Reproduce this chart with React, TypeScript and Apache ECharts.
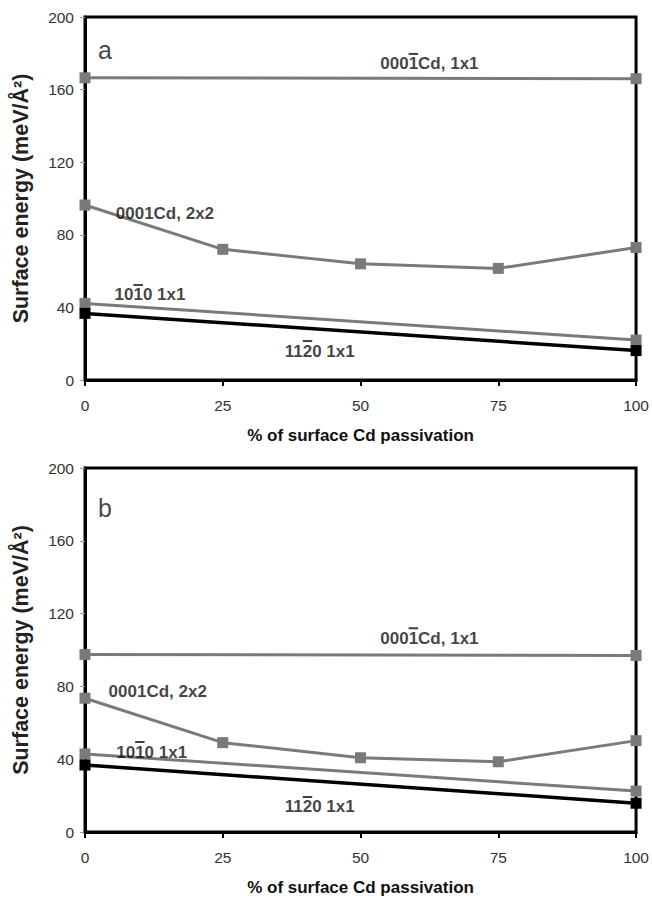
import React, { useEffect, useRef } from "react";
import * as echarts from "echarts";

// ---------- data ----------
const xTicks = [0, 25, 50, 75, 100];
const passivation5 = [0, 25, 50, 75, 100];
const passivationEnds = [0, 100];

// panel a
const a_0001bar_1x1 = [166.5, 166];
const a_0001_2x2 = [96.4, 72, 64, 61.5, 73];
const a_1010_1x1 = [42.2, 22];
const a_1120_1x1 = [36.7, 16.2];

// panel b
const b_0001bar_1x1 = [97.5, 97];
const b_0001_2x2 = [73.5, 49.1, 40.8, 38.6, 50.2];
const b_1010_1x1 = [42.9, 22.5];
const b_1120_1x1 = [36.8, 15.8];

// label texts: [before, overbarred char, after]
const L_0001bar: [string, string, string] = ["000", "1", "Cd, 1x1"];
const L_0001: [string, string, string] = ["0001Cd, 2x2", "", ""];
const L_1010: [string, string, string] = ["10", "1", "0 1x1"];
const L_1120: [string, string, string] = ["11", "2", "0 1x1"];

// annotation anchors in data coords [x, y]
const a_labels: [[string, string, string], number, number][] = [
  [L_0001bar, 62.5, 174.7],
  [L_0001, 14.5, 92],
  [L_1010, 11.8, 47.4],
  [L_1120, 42.6, 16.5],
];
const b_labels: [[string, string, string], number, number][] = [
  [L_0001bar, 62.5, 107],
  [L_0001, 13.2, 77],
  [L_1010, 12.1, 44.5],
  [L_1120, 42.6, 14.3],
];
const panelLetters: [string, number, number][] = [
  ["a", 3.6, 181.8],
  ["b", 3.6, 178],
];

const FONT = "'Liberation Sans', Arial, Helvetica, sans-serif";
const GRAY = "#7a7a7a";
const LABEL_SIZE = 17;

function zip(xs: number[], ys: number[]) {
  return xs.map((x, i) => [x, ys[i]]);
}

let measureCtx: CanvasRenderingContext2D | null = null;
function textWidth(s: string) {
  if (!measureCtx) measureCtx = document.createElement("canvas").getContext("2d");
  if (!measureCtx) return s.length * 9;
  measureCtx.font = "bold " + LABEL_SIZE + "px " + FONT;
  return measureCtx.measureText(s).width;
}

export default function App() {
  const ref = useRef<HTMLDivElement>(null);
  useEffect(() => {
    if (!ref.current) return;
    const chart = echarts.init(ref.current, undefined, { renderer: "svg" });

    const grids = [
      { left: 85, width: 552, top: 17, height: 363 },
      { left: 85, width: 552, top: 468, height: 364 },
    ].map((g) => ({ ...g, show: true, borderColor: "#000", borderWidth: 3, backgroundColor: "transparent" }));

    const xAxis = [0, 1].map((i) => ({
      type: "value",
      gridIndex: i,
      min: 0,
      max: 100,
      interval: 25,
      name: "% of surface Cd passivation",
      nameLocation: "middle",
      nameGap: 47,
      nameTextStyle: { fontFamily: FONT, fontWeight: "bold", fontSize: 17, color: "#111" },
      axisLine: { show: true, lineStyle: { color: "#000", width: 3 } },
      axisTick: { show: true, inside: false, length: 6, lineStyle: { color: "#000", width: 2 } },
      axisLabel: { fontFamily: FONT, fontSize: 15.5, color: "#333", margin: 17 },
      splitLine: { show: false },
    }));

    const yAxis = [0, 1].map((i) => ({
      type: "value",
      gridIndex: i,
      min: 0,
      max: 200,
      interval: 40,
      name: "Surface energy (meV/Å²)",
      nameLocation: "middle",
      nameGap: 53,
      nameTextStyle: { fontFamily: FONT, fontWeight: "bold", fontSize: 21.5, color: "#222" },
      axisLine: { show: true, lineStyle: { color: "#000", width: 3 } },
      axisTick: { show: true, inside: false, length: 5, lineStyle: { color: "#999", width: 1 } },
      axisLabel: { fontFamily: FONT, fontSize: 15.5, color: "#333", margin: 11 },
      splitLine: { show: false },
    }));

    const lineSeries = (idx: number, xs: number[], ys: number[], color: string, z: number, w: number) => ({
      type: "line",
      xAxisIndex: idx,
      yAxisIndex: idx,
      data: zip(xs, ys),
      symbol: "rect",
      symbolSize: 11,
      showSymbol: true,
      clip: false,
      z,
      lineStyle: { color, width: w },
      itemStyle: { color, borderWidth: 0 },
      silent: true,
    });

    const textStyleBase = { fontFamily: FONT, fontWeight: "bold", fontSize: LABEL_SIZE };

    const labelItem = ([pre, bar, post]: [string, string, string], x: number, y: number) => {
      if (!bar) {
        return { name: pre, value: [x, y], label: { formatter: "{n|" + pre + "}" } };
      }
      const full = pre + bar + post;
      const wFull = textWidth(full);
      const wPre = textWidth(pre);
      const wBar = textWidth(bar);
      const wPost = Math.max(0.5, wFull - wPre - wBar);
      const top = "{h| }{o| }{p| }";
      const bottom = "{n|" + full + "}";
      return {
        name: full,
        value: [x, y],
        label: {
          formatter: top + "\n" + bottom,
          rich: {
            n: { ...textStyleBase, color: "#111", lineHeight: 18 },
            h: { ...textStyleBase, width: wPre, height: 2, lineHeight: 2, color: "transparent" },
            o: { ...textStyleBase, width: wBar, height: 2, lineHeight: 2, color: "transparent", backgroundColor: "#111" },
            p: { ...textStyleBase, width: wPost, height: 2, lineHeight: 2, color: "transparent" },
          },
        },
      };
    };

    const labelSeries = (idx: number, items: [[string, string, string], number, number][]) => ({
      type: "scatter",
      xAxisIndex: idx,
      yAxisIndex: idx,
      symbolSize: 0,
      silent: true,
      z: 10,
      data: items.map(([parts, x, y]) => labelItem(parts, x, y)),
      label: {
        show: true,
        position: "inside",
        ...textStyleBase,
        color: "#111",
        rich: {
          n: { ...textStyleBase, color: "#111", lineHeight: 18 },
        },
      },
    });

    const letterSeries = (idx: number, item: [string, number, number]) => ({
      type: "scatter",
      xAxisIndex: idx,
      yAxisIndex: idx,
      symbolSize: 0,
      silent: true,
      z: 10,
      data: [{ name: item[0], value: [item[1], item[2]] }],
      label: {
        show: true,
        position: "inside",
        formatter: "{b}",
        fontFamily: FONT,
        fontSize: 25,
        color: "#111",
      },
    });

    const series = [
      lineSeries(0, passivationEnds, a_0001bar_1x1, GRAY, 2, 3),
      lineSeries(0, passivation5, a_0001_2x2, GRAY, 2, 3),
      lineSeries(0, passivationEnds, a_1010_1x1, GRAY, 2, 3),
      lineSeries(0, passivationEnds, a_1120_1x1, "#000", 3, 3.5),
      lineSeries(1, passivationEnds, b_0001bar_1x1, GRAY, 2, 3),
      lineSeries(1, passivation5, b_0001_2x2, GRAY, 2, 3),
      lineSeries(1, passivationEnds, b_1010_1x1, GRAY, 2, 3),
      lineSeries(1, passivationEnds, b_1120_1x1, "#000", 3, 3.5),
      labelSeries(0, a_labels),
      labelSeries(1, b_labels),
      letterSeries(0, panelLetters[0]),
      letterSeries(1, panelLetters[1]),
    ];

    chart.setOption({
      animation: false,
      backgroundColor: "#fff",
      grid: grids,
      xAxis,
      yAxis,
      series,
    });
    void xTicks;
    return () => chart.dispose();
  }, []);

  return (
    <div
      ref={ref}
      style={{ position: "fixed", left: 0, top: 0, width: 652, height: 903, background: "#fff" }}
    />
  );
}
